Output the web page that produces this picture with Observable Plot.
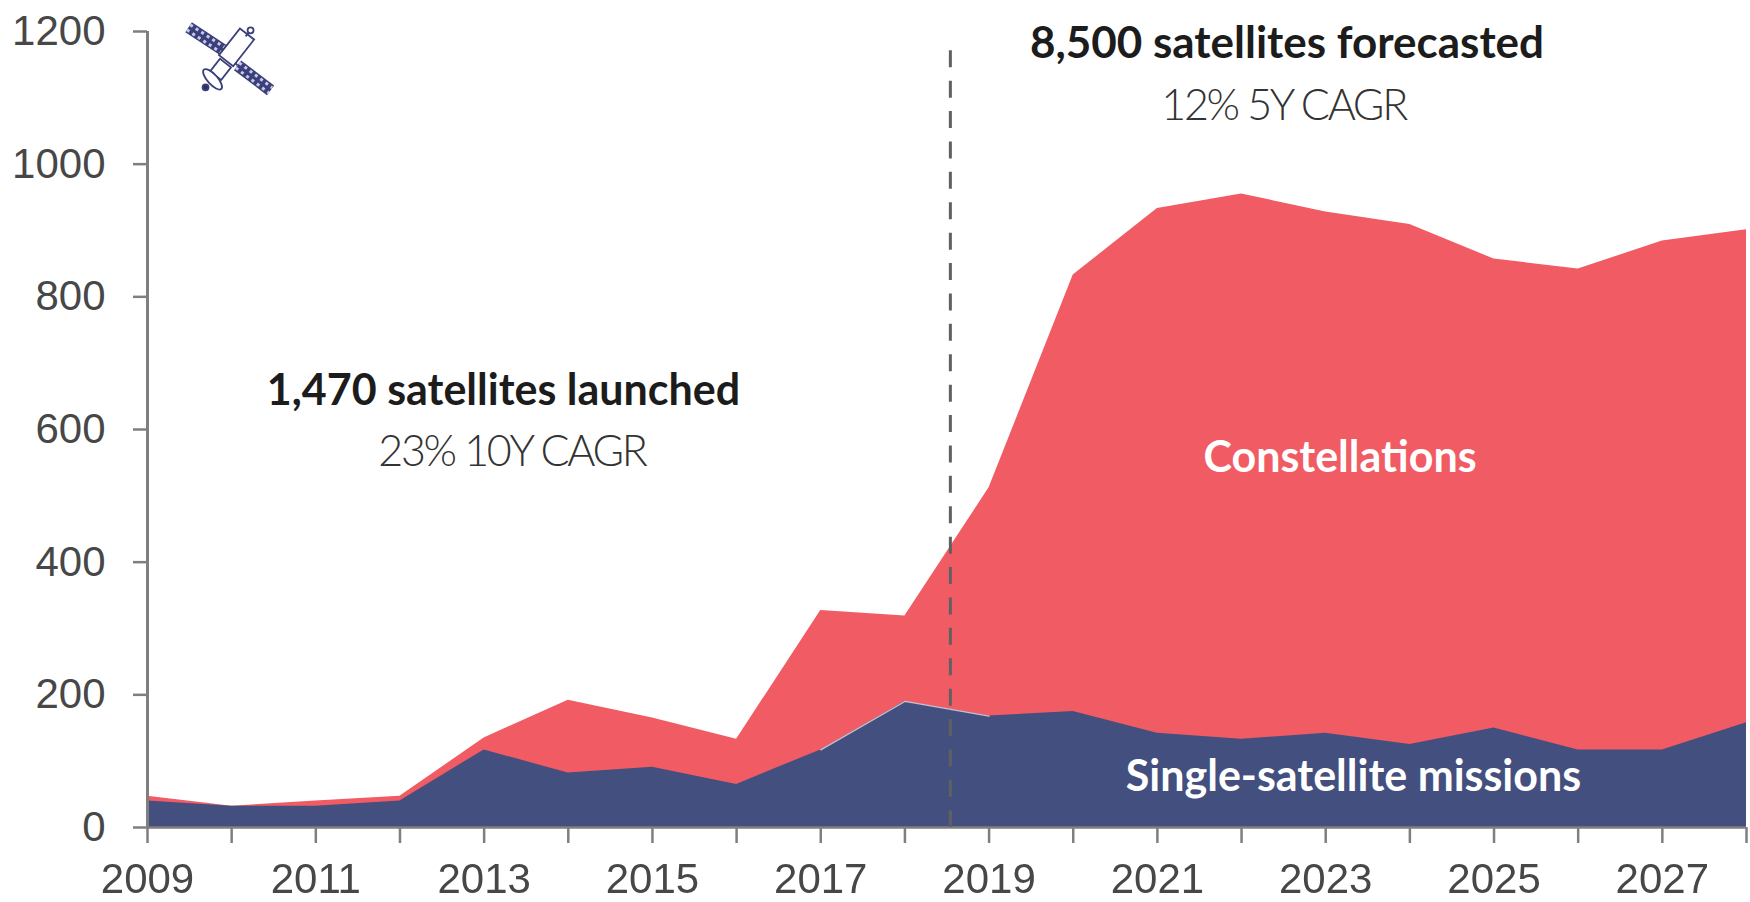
<!DOCTYPE html>
<html>
<head>
<meta charset="utf-8">
<script src="https://cdn.jsdelivr.net/npm/d3@7"></script>
<script src="https://cdn.jsdelivr.net/npm/@observablehq/plot@0.6"></script>
<style>
html,body{margin:0;padding:0;background:#fff;}
svg{display:block;filter:blur(0.5px);}
</style>
</head>
<body>
<div id="chart"></div>
<script>
const years = [2009,2010,2011,2012,2013,2014,2015,2016,2017,2018,2019,2020,2021,2022,2023,2024,2025,2026,2027,2028];
const singleSatellite = [40,32,32,40,117,82,91,65,117,190,168,175,142,133,142,125,150,117,117,158];
const totalSatellites = [47,32,40,47,135,192,165,133,327,319,512,833,933,955,928,909,857,842,884,901];
const yTicks = [0,200,400,600,800,1000,1200];
const forecastTitle = [{x:2022.54,y:1182,text:"8,500 satellites forecasted"}];
const launchedTitle = [{x:2013.23,y:657,text:"1,470 satellites launched"}];
const lightNotes = [
  {x:2022.5,y:1087,text:"12% 5Y CAGR"},
  {x:2013.33,y:566,text:"23% 10Y CAGR"}
];
const seriesNotes = [
  {x:2023.17,y:556,text:"Constellations"},
  {x:2023.33,y:76,text:"Single-satellite missions"}
];
const table = years.map((year,i)=>({year,single:singleSatellite[i],total:totalSatellites[i]}));

const navy="#43507f", red="#f15b63", gray="#7f7f7f", ink="#474747", panel="#3b3f7c";
const rows = (a,b,c,d)=>[[-1.7,2.5],[1.7,-2.5]].map(([p,q])=>
  `<path d="M${a+p} ${b+q}L${c+p} ${d+q}" stroke="#c9c9e6" stroke-width="3" stroke-dasharray="3 3.6"/>`).join("");
const icon = `<svg xmlns="http://www.w3.org/2000/svg" viewBox="0 0 100 100">
<g fill="none" stroke="${panel}" stroke-width="1.8">
<path d="M9 18L44 41" stroke-width="12"/>${rows(9,18,44,41)}
<path d="M58 56L91 81" stroke-width="12"/>${rows(58,56,91,81)}
<path d="M44 41L58 56" stroke-width="2"/>
<rect x="48" y="21" width="18" height="34" fill="#fff" transform="rotate(38 57 38)"/>
<rect x="34" y="52" width="14" height="16" fill="#fff" transform="rotate(38 41 60)"/>
<ellipse cx="33" cy="70" rx="13" ry="5" transform="rotate(48 33 70)" fill="#fff"/>
<path d="M66 27L71 21"/><circle cx="71" cy="21" r="3" fill="#fff"/>
<circle cx="26" cy="78" r="3" fill="#2c2f66"/>
</g></svg>`;
const iconSrc = "data:image/svg+xml;utf8," + encodeURIComponent(icon);
const tightened = (i,s,v,d,c,next)=>{const g=next(i,s,v,d,c); g.style.letterSpacing="-2.3px"; return g;};

const chart = Plot.plot({
  width:1750, height:902,
  marginLeft:147, marginRight:4, marginTop:31, marginBottom:75,
  style:{background:"#fff", fontFamily:"'Liberation Sans',Arial,sans-serif", overflow:"visible"},
  x:{type:"linear", domain:[2009,2028]},
  y:{domain:[0,1200]},
  marks:[
    Plot.areaY(table,{x:"year",y:"total",fill:red,curve:"linear"}),
    Plot.areaY(table,{x:"year",y:"single",fill:navy,curve:"linear"}),
    Plot.line(table.filter(d=>d.year>=2017&&d.year<=2019),{x:"year",y:"single",stroke:"#fff",strokeWidth:1.3,strokeOpacity:0.65}),
    Plot.ruleY([0],{stroke:gray,strokeWidth:2.5}),
    Plot.ruleX([2009],{stroke:gray,strokeWidth:3}),
    Plot.ruleX([2018.54],{y1:1171,y2:0,stroke:"#5f6062",strokeWidth:3,strokeDasharray:"17 13.4"}),
    Plot.axisY({ticks:yTicks,tickSize:14,tickPadding:28,tickFormat:d=>String(d),fontSize:42,stroke:gray,strokeWidth:2.5,label:null,fill:ink}),
    Plot.axisX({ticks:years,tickSize:16,tickPadding:20,tickFormat:d=>d%2?String(d):"",fontSize:42,stroke:gray,strokeWidth:2.5,label:null,fill:ink}),
    Plot.text(forecastTitle,{x:"x",y:"y",text:"text",fontFamily:"Lato",fontWeight:700,fontSize:44,fill:"#1c1c1c"}),
    Plot.text(launchedTitle,{x:"x",y:"y",text:"text",fontFamily:"Lato",fontWeight:700,fontSize:43,fill:"#1c1c1c"}),
    Plot.text(lightNotes,{x:"x",y:"y",text:"text",fontFamily:"Lato",fontWeight:300,fontSize:43,fill:"#333",render:tightened}),
    Plot.text(seriesNotes,{x:"x",y:"y",text:"text",fontFamily:"Lato",fontWeight:700,fontSize:43,fill:"#fff"}),
    Plot.image([{x:2009.975,y:1158}],{x:"x",y:"y",src:()=>iconSrc,width:100,height:100})
  ]
});
document.getElementById("chart").appendChild(chart);
</script>
</body>
</html>
